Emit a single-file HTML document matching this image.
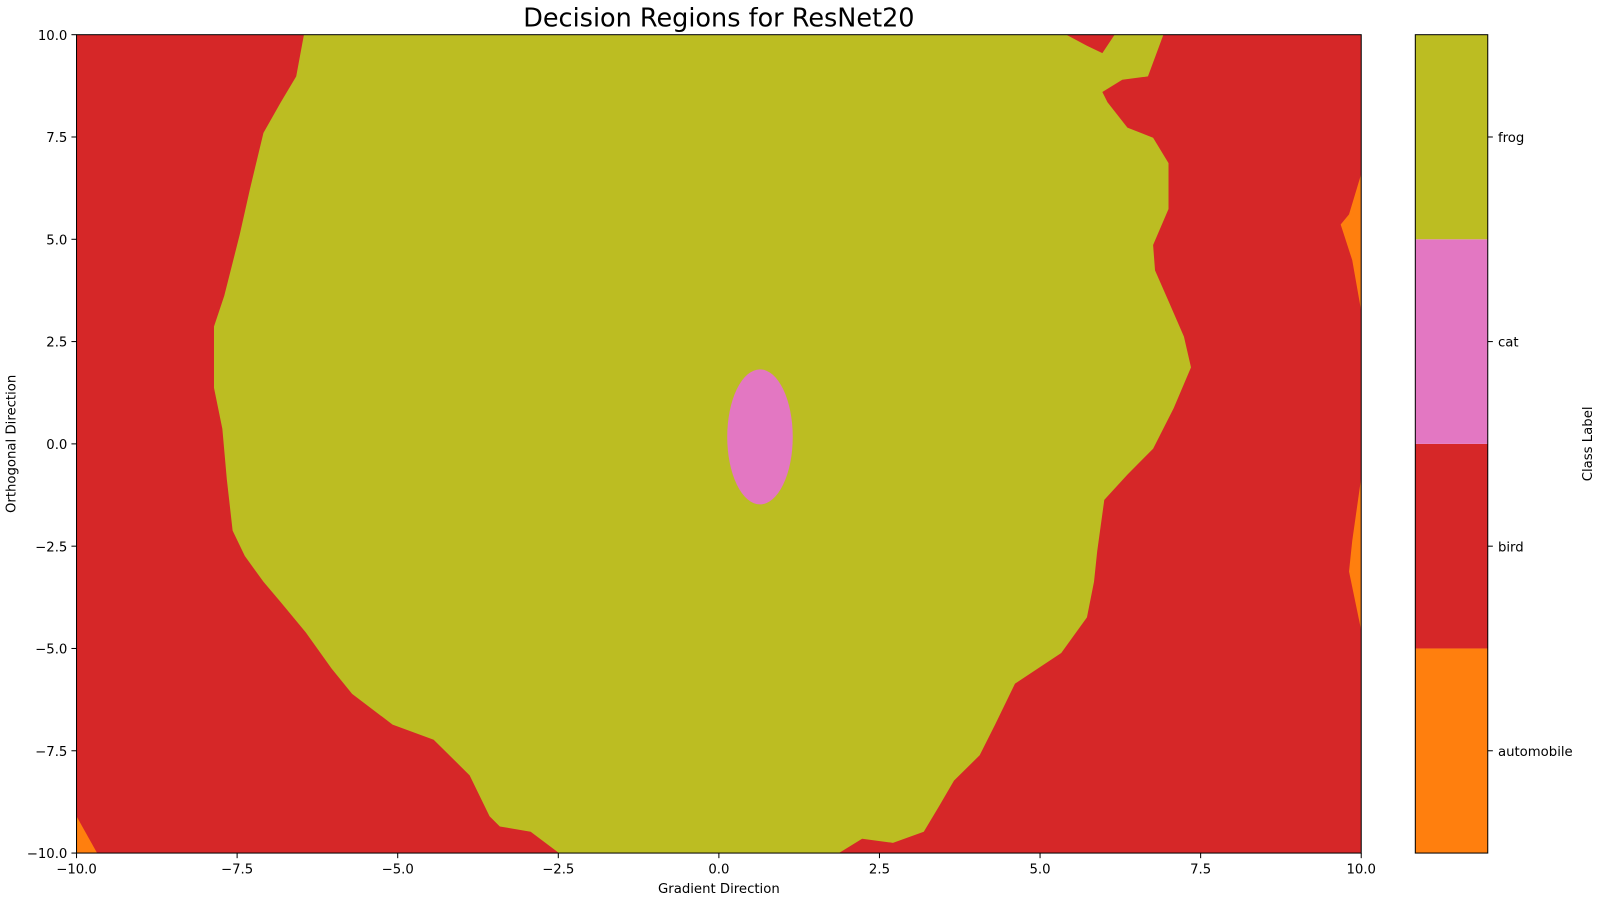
<!DOCTYPE html>
<html><head><meta charset="utf-8"><style>
body{margin:0;background:#fff}
svg{display:block;font-family:"DejaVu Sans","Liberation Sans",sans-serif}
</style></head><body>
<svg id="c" width="1600" height="900" viewBox="0 0 1568 882" preserveAspectRatio="none"></svg>
<script>
const xTicks=[-10,-7.5,-5,-2.5,0,2.5,5,7.5,10];
const yTicks=[-10,-7.5,-5,-2.5,0,2.5,5,7.5,10];
const classNames=["automobile","bird","cat","frog"];
const classColors=["#ff7f0e","#d62728","#e377c2","#bcbd22"];
const frogX=[-6.46,-6.58,-6.82,-7.09,-7.3,-7.46,-7.70,-7.86,-7.86,-7.73,-7.66,-7.57,-7.38,-7.09,-6.82,-6.43,-6.03,-5.71,-5.08,-4.44,-3.88,-3.57,-3.41,-2.93,-2.49,1.87,2.23,2.71,3.19,3.43,3.66,4.06,4.30,4.61,5.33,5.73,5.84,5.89,6.00,6.36,6.76,7.08,7.35,7.24,7.00,6.79,6.76,7.00,7.00,6.76,6.36,6.05,5.97,6.28,6.68,6.92,6.16,5.97,5.73,5.41];
const frogY=[10,8.98,8.35,7.6,6.23,5.11,3.62,2.87,1.37,0.37,-0.87,-2.12,-2.74,-3.37,-3.87,-4.61,-5.49,-6.11,-6.86,-7.23,-8.10,-9.10,-9.35,-9.48,-10,-10,-9.65,-9.75,-9.48,-8.85,-8.23,-7.61,-6.86,-5.86,-5.11,-4.24,-3.37,-2.62,-1.37,-0.75,-0.12,0.87,1.87,2.62,3.49,4.24,4.86,5.74,6.86,7.48,7.73,8.35,8.60,8.90,8.98,10,10,9.55,9.73,10];
const autoAX=[10,9.81,9.68,9.86,10], autoAY=[6.6,5.61,5.36,4.49,3.24];
const autoBX=[10,9.86,9.81,10], autoBY=[-0.82,-2.37,-3.12,-4.56];
const autoCX=[-10,-9.68,-10], autoCY=[-9.1,-10,-10];
const catCenter=[0.64,0.17], catRadius=[0.51,1.65];

const NS="http://www.w3.org/2000/svg", svg=document.getElementById('c');
const L=75,R=1334,T=34,B=836;
const sx=v=>L+(v+10)/20*(R-L), sy=v=>B-(v+10)/20*(B-T);
function mk(t,a,p){const e=document.createElementNS(NS,t);for(const k in a)e.setAttribute(k,a[k]);(p||svg).appendChild(e);return e;}
function poly(xs,ys,fill,name){const e=mk('polygon',{points:xs.map((x,i)=>sx(x)+','+sy(ys[i])).join(' '),fill:fill,'stroke-linejoin':'round'});

}
const bg=mk('rect',{x:L,y:T,width:R-L,height:B-T,fill:classColors[1]});


poly(frogX,frogY,classColors[3],'frog-region');
poly(autoAX,autoAY,classColors[0],'automobile-region-upper-right');
poly(autoBX,autoBY,classColors[0],'automobile-region-lower-right');
poly(autoCX,autoCY,classColors[0],'automobile-region-bottom-left');
const cat=mk('ellipse',{cx:sx(catCenter[0]),cy:sy(catCenter[1]),rx:sx(catCenter[0]+catRadius[0])-sx(catCenter[0]),ry:sy(catCenter[1])-sy(catCenter[1]+catRadius[1]),fill:classColors[2]});


const fr=mk('rect',{x:L,y:T,width:R-L,height:B-T,fill:'none',stroke:'#000','stroke-width':1});


const fmt=v=>(v<0?'\u2212':'')+Math.abs(v).toFixed(1);
xTicks.forEach(v=>{mk('line',{x1:sx(v),x2:sx(v),y1:B,y2:B+5,stroke:'#000'});
const t=mk('text',{x:sx(v),y:B+20,'text-anchor':'middle','font-size':13});t.textContent=fmt(v);

});
yTicks.forEach(v=>{mk('line',{x1:L-5,x2:L,y1:sy(v),y2:sy(v),stroke:'#000'});
const t=mk('text',{x:L-9,y:sy(v)+5,'text-anchor':'end','font-size':13});t.textContent=fmt(v);

});
let t=mk('text',{x:(L+R)/2,y:26,'text-anchor':'middle','font-size':25});t.textContent='Decision Regions for ResNet20';


t=mk('text',{x:(L+R)/2,y:875,'text-anchor':'middle','font-size':13});t.textContent='Gradient Direction';


t=mk('text',{x:15,y:435,'text-anchor':'middle','font-size':13,transform:'rotate(-90 15 435)'});t.textContent='Orthogonal Direction';


const CL=1387,CR=1458,h=(B-T)/classNames.length;
classNames.forEach((n,i)=>{const y0=B-(i+1)*h;
const r=mk('rect',{x:CL,y:y0,width:CR-CL,height:h,fill:classColors[i]});


mk('line',{x1:CR,x2:CR+5,y1:y0+h/2,y2:y0+h/2,stroke:'#000'});
const tt=mk('text',{x:CR+10,y:y0+h/2+5,'font-size':13});tt.textContent=n;

});
mk('rect',{x:CL,y:T,width:CR-CL,height:B-T,fill:'none',stroke:'#000'});
t=mk('text',{x:1560,y:435,'text-anchor':'middle','font-size':13,transform:'rotate(-90 1560 435)'});t.textContent='Class Label';


</script>
</body></html>
